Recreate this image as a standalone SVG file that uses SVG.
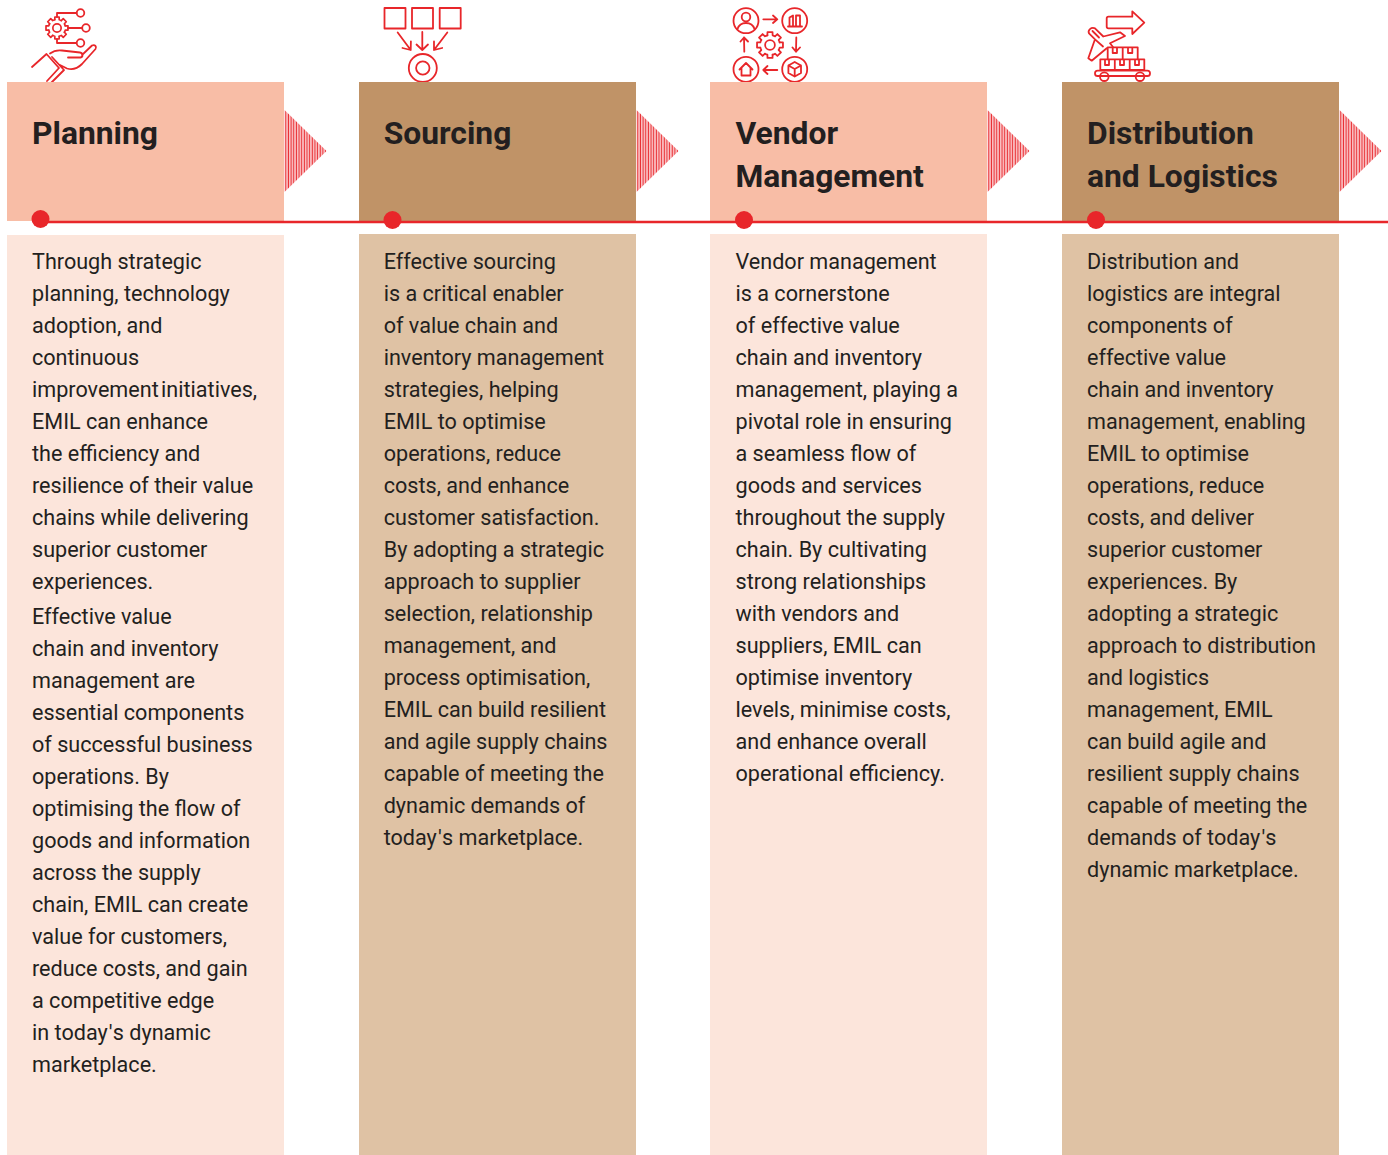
<svg xmlns="http://www.w3.org/2000/svg" width="1388" height="1155" viewBox="0 0 1388 1155">
<style>
.h{font:700 31.8px Roboto,"Liberation Sans",sans-serif;fill:#231f20}
.b{font:400 21.6px Roboto,"Liberation Sans",sans-serif;fill:#231f20}
.i{fill:none;stroke:#e8262a;stroke-width:1.8;stroke-linejoin:round;stroke-linecap:round}
.pk{fill:#f8bda6}.br{fill:#c09367}.lp{fill:#fce5db}.lb{fill:#dfc2a4}
</style>
<defs>
<pattern id="st" patternUnits="userSpaceOnUse" width="2.65" height="10" x="0">
<rect width="1.05" height="10" x="0.7" fill="#e8262a"/>
<rect width="0.7" height="10" x="1.75" fill="#f8a4a8"/>
<rect width="0.7" height="10" x="0" fill="#f8a4a8"/>
<rect width="0.2" height="10" x="2.45" fill="#fde4e4"/>
</pattern>
<path id="seg" d="M7.34-1.97 9.82-1.91V1.91L7.34 1.97A7.6 7.6 0 0 1 6.58 3.8"/>
<g id="gear">
<use href="#seg"/><use href="#seg" transform="rotate(45)"/><use href="#seg" transform="rotate(90)"/><use href="#seg" transform="rotate(135)"/><use href="#seg" transform="rotate(180)"/><use href="#seg" transform="rotate(225)"/><use href="#seg" transform="rotate(270)"/><use href="#seg" transform="rotate(315)"/>
<circle r="3.7"/>
</g>
<polygon id="tri" points="0,0 42,41 0,82" fill="url(#st)"/>
</defs>

<g id="node-planning">
<g class="i">
<use href="#gear" transform="translate(57 28) scale(1.12)" stroke-width="1.5"/>
<path d="M57 17V13H76.500M68 28H82M57 39V43H76"/>
<circle cx="80.500" cy="13" r="3.800"/><circle cx="86" cy="28" r="3.800"/><circle cx="80.500" cy="43" r="3.800"/>
<path d="M32 67 46.500 54 59 68 47 81M52 57 64 70 50 84M50 53.500C54 50.500 58 50 62 50.500L80 52.500C83 53 83.500 57 80.500 57.500L68 57.500M82 55 92 45.500C95 44 97 47 95.500 49L82 64C77 69 72 70 67 68.500L60 65"/>
</g>
<rect class="pk" x="7" y="82" width="277" height="139"/>
<use href="#tri" x="284.500" y="110"/>
<rect class="lp" x="7" y="235" width="277" height="920"/>
<text class="h" x="32" y="143.500">Planning</text>
<text class="b" y="269">
<tspan x="32">Through strategic</tspan>
<tspan x="32" dy="32">planning, technology</tspan>
<tspan x="32" dy="32">adoption, and</tspan>
<tspan x="32" dy="32">continuous</tspan>
<tspan x="32" dy="32" word-spacing="-3">improvement initiatives,</tspan>
<tspan x="32" dy="32">EMIL can enhance</tspan>
<tspan x="32" dy="32">the efficiency and</tspan>
<tspan x="32" dy="32">resilience of their value</tspan>
<tspan x="32" dy="32">chains while delivering</tspan>
<tspan x="32" dy="32">superior customer</tspan>
<tspan x="32" dy="32">experiences.</tspan>
<tspan x="32" dy="35">Effective value</tspan>
<tspan x="32" dy="32">chain and inventory</tspan>
<tspan x="32" dy="32">management are</tspan>
<tspan x="32" dy="32">essential components</tspan>
<tspan x="32" dy="32">of successful business</tspan>
<tspan x="32" dy="32">operations. By</tspan>
<tspan x="32" dy="32">optimising the flow of</tspan>
<tspan x="32" dy="32">goods and information</tspan>
<tspan x="32" dy="32">across the supply</tspan>
<tspan x="32" dy="32">chain, EMIL can create</tspan>
<tspan x="32" dy="32">value for customers,</tspan>
<tspan x="32" dy="32">reduce costs, and gain</tspan>
<tspan x="32" dy="32">a competitive edge</tspan>
<tspan x="32" dy="32">in today<tspan dx="1">'</tspan><tspan dx="1">s</tspan> dynamic</tspan>
<tspan x="32" dy="32">marketplace.</tspan>
</text>
</g>

<g id="node-sourcing">
<g class="i">
<rect x="384.500" y="8" width="21" height="20.500"/><rect x="412" y="8" width="21" height="20.500"/><rect x="439.700" y="8" width="21" height="20.500"/>
<path d="M397.700 32.500 410.700 50M410.900 41.500 410.700 50 402.500 48M422.300 32V50M416.500 44.500 422.300 50 428 44.500M447.300 32.500 434 50M434 41.500 434 50 442.200 48"/>
<circle cx="422.800" cy="68" r="14"/><circle cx="422.800" cy="68" r="6.700"/>
</g>
<rect class="br" x="359" y="82" width="277" height="139"/>
<use href="#tri" x="636.500" y="110"/>
<rect class="lb" x="359" y="234" width="277" height="921"/>
<text class="h" x="383.700" y="143.500">Sourcing</text>
<text class="b" y="269">
<tspan x="383.700">Effective sourcing</tspan>
<tspan x="383.700" dy="32">is a critical enabler</tspan>
<tspan x="383.700" dy="32">of value chain and</tspan>
<tspan x="383.700" dy="32">inventory management</tspan>
<tspan x="383.700" dy="32">strategies, helping</tspan>
<tspan x="383.700" dy="32">EMIL to optimise</tspan>
<tspan x="383.700" dy="32">operations, reduce</tspan>
<tspan x="383.700" dy="32">costs, and enhance</tspan>
<tspan x="383.700" dy="32">customer satisfaction.</tspan>
<tspan x="383.700" dy="32">By adopting a strategic</tspan>
<tspan x="383.700" dy="32">approach to supplier</tspan>
<tspan x="383.700" dy="32">selection, relationship</tspan>
<tspan x="383.700" dy="32">management, and</tspan>
<tspan x="383.700" dy="32">process optimisation,</tspan>
<tspan x="383.700" dy="32">EMIL can build resilient</tspan>
<tspan x="383.700" dy="32">and agile supply chains</tspan>
<tspan x="383.700" dy="32">capable of meeting the</tspan>
<tspan x="383.700" dy="32">dynamic demands of</tspan>
<tspan x="383.700" dy="32">today<tspan dx="1">'</tspan><tspan dx="1">s</tspan> marketplace.</tspan>
</text>
</g>

<g id="node-vendor">
<g class="i">
<circle cx="746" cy="20.700" r="12.500"/><circle cx="794.700" cy="20.700" r="12.500"/><circle cx="746" cy="69.300" r="12.500"/><circle cx="794.700" cy="69.300" r="12.500"/>
<use href="#gear" transform="translate(770 45) scale(1.32)" stroke-width="1.35"/>
<circle cx="746" cy="17" r="4.300"/><path d="M737.500 29C739 24.500 742 23 746 23S753 24.500 754.500 29"/>
<path d="M788 26.500H802M789.500 26V17.500L793 15.500V26M796 26V15.500H800V26"/>
<path d="M739.500 69.500 746 63 752.500 69.500M741.500 68V75.500H750.500V68"/>
<path d="M794.700 62 801 65.500V73L794.700 76.500 788.400 73V65.500ZM788.400 65.500 794.700 69 801 65.500M794.700 69V76.500"/>
<path d="M763.300 19.300H777.300M773 15.500 777.300 19.300 773 23M796.300 37.500 796 51.700M792.500 47.500 796 51.700 800 47.500M777.300 70H763.300M767.500 66 763.300 70 767.500 74M744.300 51.700 744 37.500M740.500 41.500 744 37.500 748 41.500"/>
</g>
<rect class="pk" x="710" y="82" width="277" height="139"/>
<use href="#tri" x="987.500" y="110"/>
<rect class="lp" x="710" y="234" width="277" height="921"/>
<text class="h" x="735.500" y="143.500">Vendor<tspan x="735.500" dy="43.500">Management</tspan></text>
<text class="b" y="269">
<tspan x="735.500">Vendor management</tspan>
<tspan x="735.500" dy="32">is a cornerstone</tspan>
<tspan x="735.500" dy="32">of effective value</tspan>
<tspan x="735.500" dy="32">chain and inventory</tspan>
<tspan x="735.500" dy="32">management, playing a</tspan>
<tspan x="735.500" dy="32">pivotal role in ensuring</tspan>
<tspan x="735.500" dy="32">a seamless flow of</tspan>
<tspan x="735.500" dy="32">goods and services</tspan>
<tspan x="735.500" dy="32">throughout the supply</tspan>
<tspan x="735.500" dy="32">chain. By cultivating</tspan>
<tspan x="735.500" dy="32">strong relationships</tspan>
<tspan x="735.500" dy="32">with vendors and</tspan>
<tspan x="735.500" dy="32">suppliers, EMIL can</tspan>
<tspan x="735.500" dy="32">optimise inventory</tspan>
<tspan x="735.500" dy="32">levels, minimise costs,</tspan>
<tspan x="735.500" dy="32">and enhance overall</tspan>
<tspan x="735.500" dy="32">operational efficiency.</tspan>
</text>
</g>

<g id="node-distribution">
<g class="i">
<path d="M1108.500 16.700H1132.300V11.300L1144.300 22.700 1132.300 34V28.300H1108.500Q1106.700 28.300 1106.700 26.500V18.500Q1106.700 16.700 1108.500 16.700Z"/>
<path d="M1107.700 59.300V47.300H1137.700V59.300M1122.700 47.300V59.300M1112.700 47.300V53H1117V47.300M1128 47.300V53H1132.300V47.300"/>
<path d="M1100.300 70V59.300H1144.300V70H1100.300ZM1114.800 59.300V70M1129.700 59.300V70M1105 59.300V65H1109V59.300M1120 59.300V65H1124V59.300M1135 59.300V65H1139V59.300"/>
<rect x="1095" y="70.700" width="55" height="5.300" rx="2.600"/>
<circle cx="1104.300" cy="76.700" r="4.300"/><circle cx="1140" cy="76.700" r="4.300"/>
<path d="M1095 28.300 1103.300 36.500 1120 32.300 1125 36 1110 43.300 1113 47M1095 28.300C1091 27 1087.500 30 1089 33.300L1095 39.300 1088.300 58.300 1091.700 60.700 1106.700 48.300M1095 39.300 1103 46.500M1092.500 31 1099 37.500"/>
</g>
<rect class="br" x="1062" y="82" width="277" height="139"/>
<use href="#tri" x="1339.500" y="110"/>
<rect class="lb" x="1062" y="234" width="277" height="921"/>
<text class="h" x="1087" y="143.500">Distribution<tspan x="1087" dy="43.500">and Logistics</tspan></text>
<text class="b" y="269">
<tspan x="1087">Distribution and</tspan>
<tspan x="1087" dy="32">logistics are integral</tspan>
<tspan x="1087" dy="32">components of</tspan>
<tspan x="1087" dy="32">effective value</tspan>
<tspan x="1087" dy="32">chain and inventory</tspan>
<tspan x="1087" dy="32">management, enabling</tspan>
<tspan x="1087" dy="32">EMIL to optimise</tspan>
<tspan x="1087" dy="32">operations, reduce</tspan>
<tspan x="1087" dy="32">costs, and deliver</tspan>
<tspan x="1087" dy="32">superior customer</tspan>
<tspan x="1087" dy="32">experiences. By</tspan>
<tspan x="1087" dy="32">adopting a strategic</tspan>
<tspan x="1087" dy="32">approach to distribution</tspan>
<tspan x="1087" dy="32">and logistics</tspan>
<tspan x="1087" dy="32">management, EMIL</tspan>
<tspan x="1087" dy="32">can build agile and</tspan>
<tspan x="1087" dy="32">resilient supply chains</tspan>
<tspan x="1087" dy="32">capable of meeting the</tspan>
<tspan x="1087" dy="32">demands of today<tspan dx="1">'</tspan><tspan dx="1">s</tspan></tspan>
<tspan x="1087" dy="32">dynamic marketplace.</tspan>
</text>
</g>

<g id="connectors">
<path d="M40 222H1388" fill="none" stroke="#e8262a" stroke-width="2.500"/>
<circle cx="40.500" cy="219" r="9" fill="#e8262a"/>
<circle cx="392.500" cy="220" r="9" fill="#e8262a"/>
<circle cx="744" cy="220" r="9" fill="#e8262a"/>
<circle cx="1096" cy="220" r="9" fill="#e8262a"/>
</g>
</svg>
